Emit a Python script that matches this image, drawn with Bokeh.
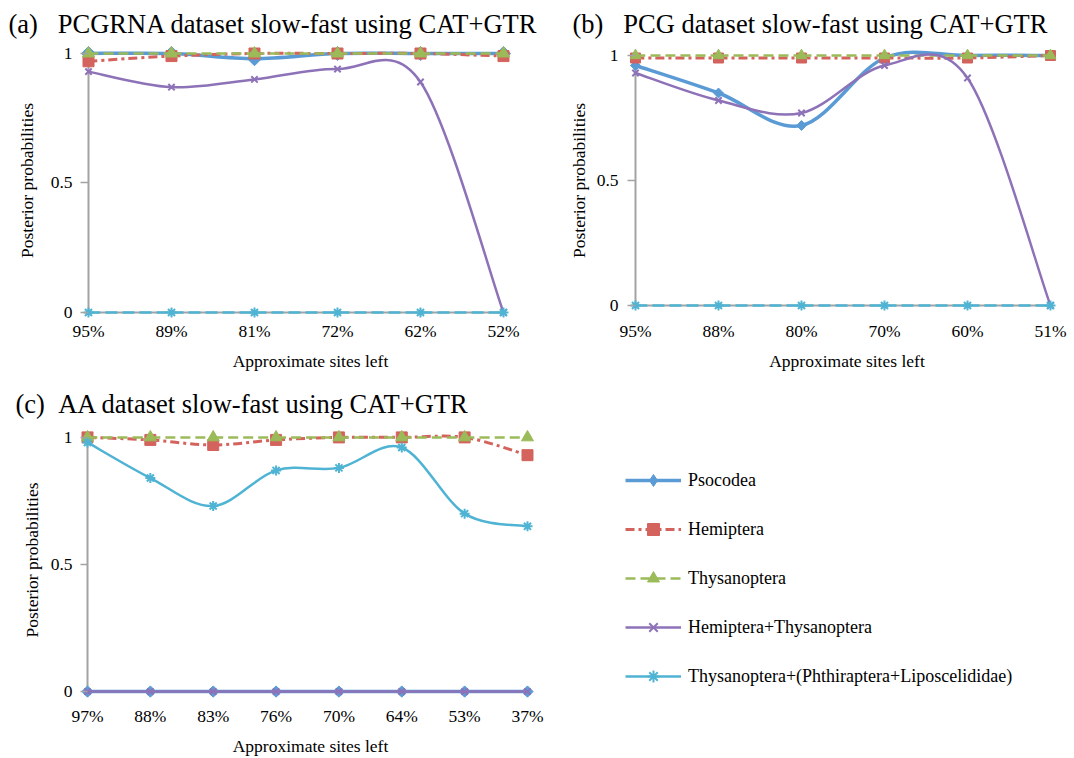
import numpy as np
from bokeh.plotting import figure
from bokeh.models import Range1d, FixedTicker, Legend, LegendItem, ColumnDataSource, LinearAxis
from bokeh.layouts import row, column
from bokeh.embed import file_html
from bokeh.resources import INLINE

FONT = "Liberation Serif"

SERIES = ["Psocodea", "Hemiptera", "Thysanoptera", "Hemiptera+Thysanoptera",
          "Thysanoptera+(Phthiraptera+Liposcelididae)"]

# ---------------- data ----------------
a_sites = ["95%", "89%", "81%", "72%", "62%", "52%"]
a_psocodea = [1.0, 1.0, 0.98, 1.0, 1.0, 1.0]
a_hemiptera = [0.97, 0.99, 1.0, 1.0, 1.0, 0.99]
a_thysanoptera = [1.0, 1.0, 1.0, 1.0, 1.0, 1.0]
a_hem_thys = [0.93, 0.87, 0.90, 0.94, 0.89, 0.0]
a_thys_phth_lipo = [0.0, 0.0, 0.0, 0.0, 0.0, 0.0]

b_sites = ["95%", "88%", "80%", "70%", "60%", "51%"]
b_psocodea = [0.96, 0.85, 0.72, 0.99, 1.0, 1.0]
b_hemiptera = [0.99, 0.99, 0.99, 0.99, 0.99, 1.0]
b_thysanoptera = [1.0, 1.0, 1.0, 1.0, 1.0, 1.0]
b_hem_thys = [0.93, 0.82, 0.77, 0.96, 0.91, 0.0]
b_thys_phth_lipo = [0.0, 0.0, 0.0, 0.0, 0.0, 0.0]

c_sites = ["97%", "88%", "83%", "76%", "70%", "64%", "53%", "37%"]
c_psocodea = [0.0, 0.0, 0.0, 0.0, 0.0, 0.0, 0.0, 0.0]
c_hemiptera = [1.0, 0.99, 0.97, 0.99, 1.0, 1.0, 1.0, 0.93]
c_thysanoptera = [1.0, 1.0, 1.0, 1.0, 1.0, 1.0, 1.0, 1.0]
c_hem_thys = [0.0, 0.0, 0.0, 0.0, 0.0, 0.0, 0.0, 0.0]
c_thys_phth_lipo = [0.98, 0.84, 0.73, 0.87, 0.88, 0.96, 0.70, 0.65]

y_ticks = [0, 0.5, 1]
y_tick_labels = ["0", "0.5", "1"]

# ---------------- styles ----------------
STYLE = {
    "Psocodea": dict(color="#5B9BD5", width=3.5, dash="solid", marker="square", angle=np.pi / 4,
                     mlw=1, legend_marker="diamond"),
    "Hemiptera": dict(color="#D3635C", width=3, dash="9 4 3 4", marker="square", angle=0.0,
                      mlw=1, legend_marker="square"),
    "Thysanoptera": dict(color="#9BBB59", width=2.5, dash="10 5", marker="triangle", angle=0.0,
                         mlw=1, legend_marker="triangle"),
    "Hemiptera+Thysanoptera": dict(color="#8E72B8", width=2.5, dash="solid", marker="x", angle=0.0,
                                   mlw=2, legend_marker="x"),
    "Thysanoptera+(Phthiraptera+Liposcelididae)": dict(color="#4FB3D3", width=2.5, dash="solid",
                                                        marker="asterisk", angle=0.0, mlw=2,
                                                        legend_marker="asterisk"),
}
AXIS_GREY = "#A3A3A3"
TXT = "17.5px"


def ctrl_points(ys):
    y = np.asarray(ys, dtype=float)
    n = len(y)
    x = np.arange(n, dtype=float)
    xp = np.r_[x[0], x, x[-1]]
    yp = np.r_[y[0], y, y[-1]]
    return dict(
        x0=x[:-1], y0=y[:-1], x1=x[1:], y1=y[1:],
        cx0=x[:-1] + (xp[2:n + 1] - xp[0:n - 1]) / 6.0,
        cy0=y[:-1] + (yp[2:n + 1] - yp[0:n - 1]) / 6.0,
        cx1=x[1:] - (xp[3:n + 2] - xp[1:n]) / 6.0,
        cy1=y[1:] - (yp[3:n + 2] - yp[1:n]) / 6.0,
    )


def make_panel(title, sites, values, msizes, w, h, xr, yr, mb, title_offset,
               x_standoff, xlab_standoff, y_tick_in, y_standoff, ylab_standoff, dashed_last):
    n = len(sites)
    p = figure(width=w, height=h,
               x_range=Range1d(*xr), y_range=Range1d(*yr),
               output_backend="svg", toolbar_location=None,
               min_border_left=mb[0], min_border_right=mb[1],
               min_border_top=mb[2], min_border_bottom=mb[3])
    p.outline_line_color = None
    p.grid.visible = False
    p.background_fill_color = "white"
    p.border_fill_color = "white"

    p.title.text = title
    p.title.text_font = FONT
    p.title.text_font_size = "26.5px"
    p.title.text_font_style = "normal"
    p.title.text_color = "black"
    p.title.align = "left"
    p.title.offset = title_offset
    p.title.standoff = 3

    # grey axis lines at value 0 / first category, drawn beneath the series
    xline = LinearAxis(fixed_location=0, bounds=(0, n - 1), level="underlay",
                       ticker=FixedTicker(ticks=[]), axis_line_color=AXIS_GREY, axis_line_width=2,
                       major_tick_line_color=None, minor_tick_line_color=None,
                       major_label_text_font_size="0px")
    yline = LinearAxis(fixed_location=0, bounds=(0, 1), level="underlay",
                       ticker=FixedTicker(ticks=[]), axis_line_color=AXIS_GREY, axis_line_width=2,
                       major_tick_line_color=None, minor_tick_line_color=None,
                       major_label_text_font_size="0px")
    p.add_layout(xline, "below")
    p.add_layout(yline, "left")

    xs = np.arange(n)
    for k, (name, ys) in enumerate(zip(SERIES, values)):
        st = STYLE[name]
        dash = st["dash"]
        if dashed_last and k == len(SERIES) - 1:
            dash = "12 5"
        cp = ctrl_points(ys)
        p.bezier(source=ColumnDataSource(cp), x0="x0", y0="y0", x1="x1", y1="y1",
                 cx0="cx0", cy0="cy0", cx1="cx1", cy1="cy1",
                 line_color=st["color"], line_width=st["width"], line_dash=dash)
        p.scatter(x=xs, y=ys, marker=st["marker"], size=msizes[k], angle=st["angle"],
                  fill_color=st["color"], line_color=st["color"], line_width=st["mlw"])

    # labelled axes at the frame edges (lines hidden)
    xa = p.xaxis[0]
    xa.ticker = FixedTicker(ticks=list(range(n)))
    xa.major_label_overrides = {i: s for i, s in enumerate(sites)}
    xa.axis_label = "Approximate sites left"
    xa.axis_label_text_font = FONT
    xa.axis_label_text_font_size = TXT
    xa.axis_label_text_font_style = "normal"
    xa.axis_label_text_color = "black"
    xa.axis_label_standoff = xlab_standoff
    xa.major_label_text_font = FONT
    xa.major_label_text_font_size = TXT
    xa.major_label_text_color = "black"
    xa.major_label_standoff = x_standoff
    xa.axis_line_color = None
    xa.major_tick_line_color = None
    xa.major_tick_out = 0
    xa.major_tick_in = 0
    xa.minor_tick_line_color = None
    xa.minor_tick_out = 0
    xa.minor_tick_in = 0

    ya = p.yaxis[0]
    ya.ticker = FixedTicker(ticks=y_ticks)
    ya.major_label_overrides = {t: s for t, s in zip(y_ticks, y_tick_labels)}
    ya.axis_label = "Posterior probabilities"
    ya.axis_label_text_font = FONT
    ya.axis_label_text_font_size = TXT
    ya.axis_label_text_font_style = "normal"
    ya.axis_label_text_color = "black"
    ya.axis_label_standoff = ylab_standoff
    ya.major_label_text_font = FONT
    ya.major_label_text_font_size = TXT
    ya.major_label_text_color = "black"
    ya.major_label_standoff = y_standoff
    ya.axis_line_color = None
    ya.major_tick_line_color = AXIS_GREY
    ya.major_tick_line_width = 1.5
    ya.major_tick_out = 0
    ya.major_tick_in = y_tick_in
    ya.minor_tick_line_color = None
    ya.minor_tick_out = 0
    ya.minor_tick_in = 0
    return p


NB = "\u00a0"
pa = make_panel("(a)" + NB * 3 + "PCGRNA dataset slow-fast using CAT+GTR", a_sites,
                [a_psocodea, a_hemiptera, a_thysanoptera, a_hem_thys, a_thys_phth_lipo],
                [10, 11, 12, 9, 10], 548, 380, (-0.0964, 5.446), (-0.0309, 1.0502),
                (80, 8, 40, 60), -72, 0, 7, 8, 8, 11, True)
pb = make_panel("(b)" + NB * 3 + "PCG dataset slow-fast using CAT+GTR", b_sites,
                [b_psocodea, b_hemiptera, b_thysanoptera, b_hem_thys, b_thys_phth_lipo],
                [7, 10, 11, 9, 10], 526, 380, (-0.0964, 5.193), (-0.06, 1.06),
                (79, 8, 40, 60), -55, 0, 7, 8, 9, 5, True)
pc = make_panel("(c)" + NB * 2 + "AA dataset slow-fast using CAT+GTR", c_sites,
                [c_psocodea, c_hemiptera, c_thysanoptera, c_hem_thys, c_thys_phth_lipo],
                [8, 11, 12, 9, 10], 548, 378, (-0.1114, 7.207), (-0.03125, 1.0664),
                (80, 8, 40, 57), -65, 6, 7, 7, 8, 6, False)

# ---------------- legend panel ----------------
lg = figure(width=526, height=378, x_range=Range1d(0, 1), y_range=Range1d(0, 1),
            output_backend="svg", toolbar_location=None,
            x_axis_location=None, y_axis_location=None, min_border=0)
lg.outline_line_color = None
lg.grid.visible = False
items = []
c_vals = [c_psocodea, c_hemiptera, c_thysanoptera, c_hem_thys, c_thys_phth_lipo]
for name, ys in zip(SERIES, c_vals):
    st = STYLE[name]
    xs = np.arange(len(ys))
    r1 = lg.line(x=xs, y=ys, line_color=st["color"], line_width=st["width"],
                 line_dash=st["dash"], visible=False)
    r2 = lg.scatter(x=xs, y=ys, marker=st["legend_marker"], size=10,
                    fill_color=st["color"], line_color=st["color"], line_width=st["mlw"],
                    visible=False)
    items.append(LegendItem(label=name, renderers=[r1, r2]))
leg = Legend(items=items, location=(77, 8), orientation="vertical",
             label_text_font=FONT, label_text_font_size="18px", label_text_color="black",
             glyph_width=56, glyph_height=30, label_height=30, spacing=19,
             label_standoff=7, padding=0, margin=0,
             border_line_color=None, background_fill_alpha=0)
lg.add_layout(leg)

layout = column(row(pa, pb), row(pc, lg))
open("out.html", "w").write(file_html(layout, INLINE))
